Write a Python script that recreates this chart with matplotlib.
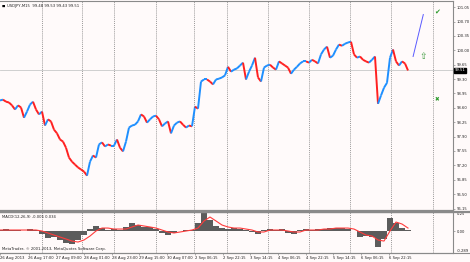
import numpy as np
import matplotlib
matplotlib.use("Agg")
import matplotlib.pyplot as plt
from matplotlib.collections import LineCollection
from matplotlib.lines import Line2D

# ---------------- data ----------------
close = [98.78, 98.80, 98.75, 98.73, 98.66, 98.56, 98.66, 98.61, 98.36, 98.51,
         98.68, 98.75, 98.56, 98.44, 98.51, 98.17, 98.32, 98.27, 98.07, 97.98,
         97.83, 97.78, 97.63, 97.39, 97.29, 97.22, 97.15, 97.10, 97.05, 96.95,
         97.29, 97.44, 97.39, 97.71, 97.76, 97.66, 97.71, 97.68, 97.68, 97.83,
         97.63, 97.54, 97.78, 98.12, 98.17, 98.19, 98.27, 98.44, 98.39, 98.24,
         98.32, 98.39, 98.41, 98.32, 98.15, 98.22, 98.27, 97.98, 98.17, 98.24,
         98.27, 98.19, 98.12, 98.17, 98.15, 98.63, 98.58, 99.24, 99.29, 99.29,
         99.24, 99.17, 99.29, 99.31, 99.34, 99.39, 99.60, 99.48, 99.53, 99.56,
         99.63, 99.70, 99.29, 99.48, 99.63, 99.82, 99.34, 99.24, 99.58, 99.63,
         99.65, 99.58, 99.53, 99.73, 99.68, 99.63, 99.58, 99.43, 99.53, 99.60,
         99.68, 99.73, 99.73, 99.70, 99.77, 99.73, 99.68, 99.90, 100.02, 100.09,
         99.82, 99.87, 100.02, 100.14, 100.11, 100.16, 100.19, 100.21, 99.90, 99.82,
         99.85, 99.77, 99.73, 99.70, 99.77, 99.85, 98.70, 98.90, 99.09, 99.21,
         99.82, 100.02, 99.73, 99.63, 99.73, 99.68, 99.51]

macd_hist = [0.013, 0.026, 0.013, 0.013, 0.0, 0.026, 0.013,
             -0.039, -0.092, -0.079, -0.118, -0.158, -0.171, -0.118, -0.053,
             0.026, 0.066, 0.039, 0.013, 0.026, 0.013, 0.053, 0.105, 0.079, 0.053, 0.053, 0.026,
             -0.026, -0.053, -0.026, 0.0, 0.013, 0.013,
             0.105, 0.237, 0.145, 0.066, 0.039, 0.026, 0.039, 0.026, 0.013,
             -0.013, -0.039, 0.013, 0.026, 0.013, 0.026, -0.026, -0.039,
             0.013, 0.026, 0.013, 0.026, 0.026, 0.039, 0.039, 0.039, 0.026, 0.0,
             -0.079, -0.066, -0.079, -0.210, -0.105,
             0.171, 0.105, 0.039, 0.013]

macd_signal = [0.013, 0.013, 0.013, 0.013, 0.013, 0.013, 0.013,
               0.0, -0.026, -0.053, -0.079, -0.105, -0.132, -0.145, -0.118,
               -0.066, 0.0, 0.039, 0.039, 0.026, 0.026, 0.026, 0.053, 0.079, 0.066, 0.053, 0.039,
               0.013, -0.013, -0.026, -0.013, 0.0, 0.013,
               0.039, 0.132, 0.184, 0.132, 0.079, 0.053, 0.039, 0.039, 0.026,
               0.013, -0.013, -0.013, 0.013, 0.013, 0.013, 0.0, -0.013,
               -0.013, 0.013, 0.013, 0.013, 0.026, 0.026, 0.039, 0.039, 0.039, 0.026,
               -0.013, -0.053, -0.066, -0.118, -0.132,
               0.0, 0.118, 0.092, 0.039]

price_ticks = [101.05, 100.70, 100.35, 100.00, 99.65, 99.30, 98.95, 98.60,
               98.25, 97.90, 97.55, 97.20, 96.85, 96.50, 96.15]

time_labels = ['26 Aug 2013', '26 Aug 17:00', '27 Aug 09:00', '28 Aug 01:00',
               '28 Aug 23:00', '29 Aug 15:00', '30 Aug 07:00', '2 Sep 06:15',
               '2 Sep 22:15', '3 Sep 14:15', '4 Sep 06:15', '4 Sep 22:15',
               '5 Sep 14:15', '6 Sep 06:15', '6 Sep 22:15']
time_label_pos = [0, 9.5, 18.7, 28, 37.3, 46.3, 55.7, 65, 74.3, 83.3, 92.7,
                  102, 111, 120.3, 129.7]
day_separators = [13.9, 27.4, 38.1, 51.9, 64.7, 75.5, 89.2, 103.1, 116.8,
                  130.3, 144.2]

header = "USDJPY,M15  99.48 99.53 99.43 99.51"
macd_label = "MACD(12,26,9) -0.006 0.034"
copyright_text = "MetaTrader, \u00a9 2001-2013, MetaQuotes Software Corp."

# ---------------- figure ----------------
W, H = 470, 262
BG = '#fffafa'
fig = plt.figure(figsize=(W / 100, H / 100), dpi=100)
fig.patch.set_facecolor(BG)

def rect(x0, y0, x1, y1):
    return [x0 / W, 1 - y1 / H, (x1 - x0) / W, (y1 - y0) / H]

ax = fig.add_axes(rect(0, 1, 453, 211))
axm = fig.add_axes(rect(0, 212, 453, 253))
FS = 2.7
TXT = '#202020'
for a in (ax, axm):
    a.set_facecolor(BG)
    a.set_xlim(0, 151)
    a.spines['left'].set_visible(False)
    for s in ('top', 'right', 'bottom'):
        a.spines[s].set_color('#8a8a8a')
        a.spines[s].set_linewidth(0.8)
    for xv in day_separators:
        a.axvline(xv, color='#777777', lw=0.5, ls=(0, (1.5, 1.5)), zorder=1)
ax.spines['bottom'].set_linewidth(1.6)
axm.spines['top'].set_linewidth(1.6)

# full-width window separators
fig.add_artist(Line2D([0, 1], [1 - 211.5 / H] * 2, color='#8a8a8a', lw=1.6))
fig.add_artist(Line2D([0, 1], [1 - 253 / H] * 2, color='#8a8a8a', lw=0.8))

# price bars
idx = np.arange(len(close))
c = np.array(close)
segs = [[(idx[i - 1], c[i - 1]), (idx[i], c[i])] for i in range(1, len(c))]
cols = ['#1e8fff' if c[i] >= c[i - 1] else '#ff2020' for i in range(1, len(c))]
ax.add_collection(LineCollection(segs, colors=cols, linewidths=1.4, zorder=3))

ax.set_ylim(96.09, 101.20)
ax.axhline(close[-1], color='#c8c8c8', lw=0.6, zorder=2)
ax.yaxis.set_ticks_position('right')
ax.set_yticks(price_ticks)
ax.set_yticklabels([f'{v:.2f}' for v in price_ticks])
ax.tick_params(axis='y', direction='out', length=1.5, width=0.5, pad=1,
               labelsize=FS, colors='#8a8a8a', labelcolor=TXT)
ax.set_xticks([])
ax.text(1.004, close[-1], f'{close[-1]:.2f}', transform=ax.get_yaxis_transform(),
        fontsize=FS, color='white', ha='left', va='center',
        bbox=dict(boxstyle='square,pad=0.15', fc='black', ec='black'), zorder=10,
        clip_on=False)

# chart objects
ax.plot([137.7, 141.1], [99.85, 100.87], color='#5a5aff', lw=0.7, zorder=4)
ax.text(141.1, 99.85, '\u21e7', color='#3a9a3a', fontsize=6.5, ha='center', va='center')
ax.text(145.7, 100.94, '\u2714', color='#2a9a2a', fontsize=5, ha='center', va='center')
ax.text(145.7, 98.80, '\u2716', color='#2a9a2a', fontsize=4, ha='center', va='center')

ax.text(0.004, 0.985, '\u25a0', transform=ax.transAxes, fontsize=2.5, color='black',
        ha='left', va='top')
ax.text(0.016, 0.985, header, transform=ax.transAxes, fontsize=FS, color=TXT,
        ha='left', va='top')

# MACD
mx = np.arange(0, len(close), 2)
axm.bar(mx, macd_hist, width=2.0, color='#5c5c5c', align='center', zorder=2)
axm.plot(mx, macd_signal, color='#ff3b3b', lw=0.8, zorder=3)
axm.set_ylim(-0.289, 0.25)
axm.yaxis.set_ticks_position('right')
axm.set_yticks([0.25, 0.0, -0.289])
axm.set_yticklabels(['0.25', '0.00', '-0.289'])
axm.tick_params(axis='y', direction='out', length=1.5, width=0.5, pad=1,
                labelsize=FS, colors='#8a8a8a', labelcolor=TXT)
ylabs = axm.get_yticklabels()
ylabs[0].set_va('top')
ylabs[2].set_va('bottom')
axm.set_xticks(time_label_pos)
axm.set_xticklabels(time_labels, ha='left')
axm.tick_params(axis='x', direction='out', length=1.2, width=0.5, pad=0.6,
                labelsize=FS, colors='#8a8a8a', labelcolor=TXT)
axm.text(0.004, 0.93, macd_label, transform=axm.transAxes, fontsize=FS,
         color=TXT, ha='left', va='top')
axm.text(0.004, 0.04, copyright_text, transform=axm.transAxes, fontsize=FS,
         color=TXT, ha='left', va='bottom')

fig.savefig('out.png', dpi=100, facecolor=BG)
